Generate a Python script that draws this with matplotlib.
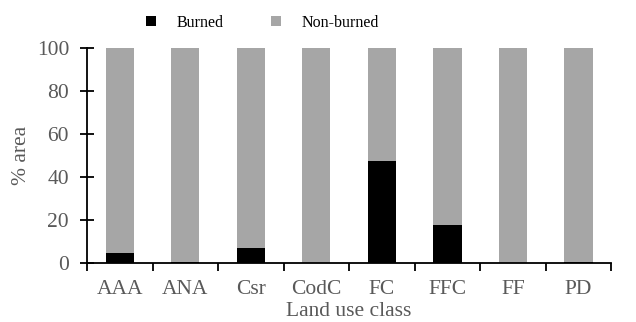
import matplotlib.pyplot as plt
import numpy as np

plt.rcParams['font.family'] = ['Liberation Serif', 'DejaVu Serif']

classes = ['AAA', 'ANA', 'Csr', 'CodC', 'FC', 'FFC', 'FF', 'PD']
burned = [4.6, 0.5, 7.0, 0.0, 47.4, 17.5, 0.0, 0.3]
non_burned = [100 - b for b in burned]

txt = '#595959'
fig = plt.figure(figsize=(6.36, 3.22), dpi=100)
ax = fig.add_axes([0.137, 0.183, 0.824, 0.668])

x = np.arange(len(classes))
ax.bar(x, burned, width=0.43, color='black', label='Burned')
ax.bar(x, non_burned, width=0.43, bottom=burned, color='#a6a6a6', label='Non-burned')

ax.set_xlim(-0.5, len(classes) - 0.5)
ax.set_ylim(0, 100)
ax.set_yticks(range(0, 101, 20))
ax.set_xticks(x)
ax.set_xticklabels(classes)
ax.set_xticks(np.arange(-0.5, len(classes), 1), minor=True)
ax.tick_params(axis='x', which='major', length=0, pad=12, labelsize=15.5, labelcolor=txt)
ax.tick_params(axis='x', which='minor', length=6, width=1.3, direction='out')
ax.tick_params(axis='y', length=10, width=1.3, direction='inout', pad=8,
               labelsize=15.5, labelcolor=txt)
for s in ['top', 'right']:
    ax.spines[s].set_visible(False)
for s in ['left', 'bottom']:
    ax.spines[s].set_linewidth(1.3)

ax.set_ylabel('% area', fontsize=15.5, color=txt, labelpad=4)
ax.set_xlabel('Land use class', fontsize=15.5, color=txt, labelpad=2)

fig.legend(loc='center', bbox_to_anchor=(0.413, 0.93), ncol=2, frameon=False,
           fontsize=11.5, handlelength=0.6, handleheight=0.6, columnspacing=3.0,
           handletextpad=1.3)

fig.savefig('out.png', dpi=100)
